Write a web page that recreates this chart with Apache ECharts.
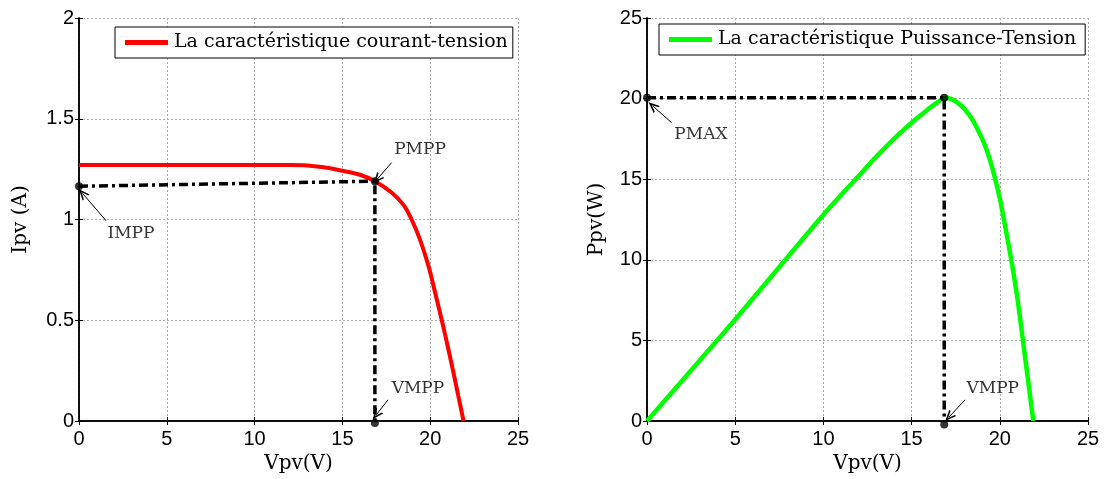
<!DOCTYPE html>
<html>
<head>
<meta charset="utf-8">
<script src="https://cdn.jsdelivr.net/npm/echarts@6/dist/echarts.min.js"></script>
<style>
  html, body { margin: 0; padding: 0; background: #fff; }
  #chart { width: 1104px; height: 479px; }
</style>
</head>
<body>
<div id="chart"></div>
<script>
// courbe I-V
const ivV = [0, 2, 4, 6, 8, 10, 12, 13, 14, 15, 16, 16.85, 17.8, 18.5, 18.94, 19.42, 19.9, 20.3, 20.7, 21.0, 21.3, 21.6, 21.9]
const ivI = [1.27, 1.27, 1.27, 1.27, 1.27, 1.27, 1.27, 1.268, 1.258, 1.242, 1.222, 1.19, 1.134, 1.07, 1.0, 0.9, 0.77, 0.63, 0.485, 0.37, 0.25, 0.125, 0]

// courbe P-V
const pvV = [0, 5, 10, 12, 13, 14, 15, 15.5, 16, 16.5, 16.84, 17.2, 17.6, 18, 18.5, 19, 19.26, 19.6, 20, 20.3, 20.65, 21, 21.3, 21.6, 21.9]
const pvP = [0, 6.3, 12.8, 15.2, 16.4, 17.5, 18.5, 18.95, 19.4, 19.8, 20.05, 20.0, 19.75, 19.35, 18.6, 17.5, 16.8, 15.6, 13.8, 12.1, 10.0, 7.6, 5.1, 2.55, 0]

// point de puissance maximale
const vmpp = 16.85
const imppStart = 1.165
const impp = 1.19
const pmax = 20.05

const xTicks = [0, 25, 5]
const iTicks = [0, 2, 0.5]
const pTicks = [0, 25, 5]

const legendLeft = 'La caractéristique courant-tension'
const legendRight = 'La caractéristique Puissance-Tension'

const serif = 'DejaVu Serif'
const sans = 'Liberation Sans'
const arrow = 'path://M0,12 L5,0 L10,12 L8.2,12 L5,4.5 L1.8,12 Z'
const dashDot = [9, 4, 3, 4]

const chart = echarts.init(document.getElementById('chart'))

const zip = (a, b) => a.map((v, i) => [v, b[i]])

const mainX = (gi) => ({
  gridIndex: gi, type: 'value', min: xTicks[0], max: xTicks[1], interval: xTicks[2],
  name: 'Vpv(V)', nameLocation: 'middle', nameGap: 33,
  nameTextStyle: { fontFamily: serif, fontSize: 20, color: '#000' },
  axisLine: { lineStyle: { color: '#000', width: 1.5 } },
  axisTick: { inside: true, length: 4, lineStyle: { color: '#000' } },
  axisLabel: { color: '#000', fontFamily: sans, fontSize: 20, margin: 8 },
  splitLine: { show: true, lineStyle: { color: '#aaa', type: [2, 2], width: 1 } }
})
const sideX = (gi) => ({
  gridIndex: gi, type: 'value', position: 'top', min: xTicks[0], max: xTicks[1], interval: xTicks[2],
  axisLine: { lineStyle: { color: '#000', width: 1.5 } },
  axisTick: { inside: true, length: 4, lineStyle: { color: '#000' } },
  axisLabel: { show: false }, splitLine: { show: false }
})
const mainY = (gi, t, name, gap) => ({
  gridIndex: gi, type: 'value', min: t[0], max: t[1], interval: t[2],
  name: name, nameLocation: 'middle', nameGap: gap,
  nameTextStyle: { fontFamily: serif, fontSize: 20, color: '#000' },
  axisLine: { lineStyle: { color: '#000', width: 1.5 } },
  axisTick: { inside: true, length: 4, lineStyle: { color: '#000' } },
  axisLabel: { color: '#000', fontFamily: sans, fontSize: 20, margin: 5 },
  splitLine: { show: true, lineStyle: { color: '#aaa', type: [2, 2], width: 1 } }
})
const sideY = (gi, t) => ({
  gridIndex: gi, type: 'value', position: 'right', min: t[0], max: t[1], interval: t[2],
  axisLine: { lineStyle: { color: '#000', width: 1.5 } },
  axisTick: { inside: true, length: 4, lineStyle: { color: '#000' } },
  axisLabel: { show: false }, splitLine: { show: false }
})

const arrowLine = (from, to) => [{ coord: from }, { coord: to }]

const annotation = (gi, points, arrows) => ({
  type: 'scatter', xAxisIndex: gi * 2, yAxisIndex: gi * 2, symbolSize: 0, silent: true,
  data: points,
  label: {
    show: true, position: 'inside', formatter: p => p.name,
    fontFamily: serif, fontSize: 17, color: '#000'
  },
  markLine: {
    silent: true, animation: false,
    symbol: ['none', arrow], symbolSize: 11, symbolKeepAspect: true,
    label: { show: false },
    lineStyle: { color: '#000', width: 1, type: 'solid' },
    data: arrows
  }
})

const legendBox = (name, left, top, padRight) => ({
  data: [name], left: left, top: top, orient: 'horizontal',
  icon: 'rect', itemWidth: 43, itemHeight: 5, itemGap: 5,
  padding: [6, padRight, 6, 10],
  borderColor: '#000', borderWidth: 1, backgroundColor: '#fff',
  selectedMode: false,
  textStyle: { fontFamily: serif, fontSize: 19, color: '#000', padding: [0, 0, 0, 1] }
})

const option = {
  animation: false,
  backgroundColor: '#fff',
  grid: [
    { left: 79, top: 18, width: 439, height: 405, show: false },
    { left: 647, top: 18, width: 441, height: 405, show: false }
  ],
  xAxis: [mainX(0), sideX(0), mainX(1), sideX(1)],
  yAxis: [
    mainY(0, iTicks, 'Ipv (A)', 48), sideY(0, iTicks),
    mainY(1, pTicks, 'Ppv(W)', 40), sideY(1, pTicks)
  ],
  legend: [
    legendBox(legendLeft, 115, 27, 5),
    legendBox(legendRight, 659, 24, 9)
  ],
  series: [
    {
      name: legendLeft, type: 'line', xAxisIndex: 0, yAxisIndex: 0,
      data: zip(ivV, ivI), showSymbol: false, smooth: 0.4,
      lineStyle: { color: '#ff0000', width: 4 }, itemStyle: { color: '#ff0000' }, z: 3
    },
    {
      type: 'line', xAxisIndex: 0, yAxisIndex: 0, showSymbol: false, silent: true,
      data: [[0, imppStart], [vmpp, impp], [vmpp, 0]],
      lineStyle: { color: '#000', width: 3.5, type: dashDot }, z: 4
    },
    {
      type: 'scatter', xAxisIndex: 0, yAxisIndex: 0, symbolSize: 8, clip: false, silent: true,
      data: [[0, imppStart], [vmpp, impp], [vmpp, -0.01]],
      itemStyle: { color: '#000' }, z: 5
    },
    annotation(0,
      [{ name: 'PMPP', value: [19.42, 1.348] }, { name: 'IMPP', value: [2.96, 0.928] }, { name: 'VMPP', value: [19.3, 0.16] }],
      [arrowLine([17.8, 1.282], [16.98, 1.2]), arrowLine([1.54, 0.994], [0.2, 1.13]), arrowLine([17.6, 0.105], [16.92, 0.03])]
    ),
    {
      name: legendRight, type: 'line', xAxisIndex: 2, yAxisIndex: 2,
      data: zip(pvV, pvP), showSymbol: false, smooth: 0.25,
      lineStyle: { color: '#00ff00', width: 4.5 }, itemStyle: { color: '#00ff00' }, z: 3
    },
    {
      type: 'line', xAxisIndex: 2, yAxisIndex: 2, showSymbol: false, silent: true,
      data: [[0, pmax], [vmpp, pmax], [vmpp, 0]],
      lineStyle: { color: '#000', width: 3.5, type: dashDot }, z: 4
    },
    {
      type: 'scatter', xAxisIndex: 2, yAxisIndex: 2, symbolSize: 8, clip: false, silent: true,
      data: [[0, pmax], [vmpp, pmax], [vmpp, -0.22]],
      itemStyle: { color: '#000' }, z: 5
    },
    annotation(1,
      [{ name: 'PMAX', value: [3.06, 17.75] }, { name: 'VMPP', value: [19.6, 2.0] }],
      [arrowLine([1.4, 18.5], [0.32, 19.55]), arrowLine([18.03, 1.31], [17.12, 0.25])]
    )
  ]
}

chart.setOption(option)
</script>
</body>
</html>
